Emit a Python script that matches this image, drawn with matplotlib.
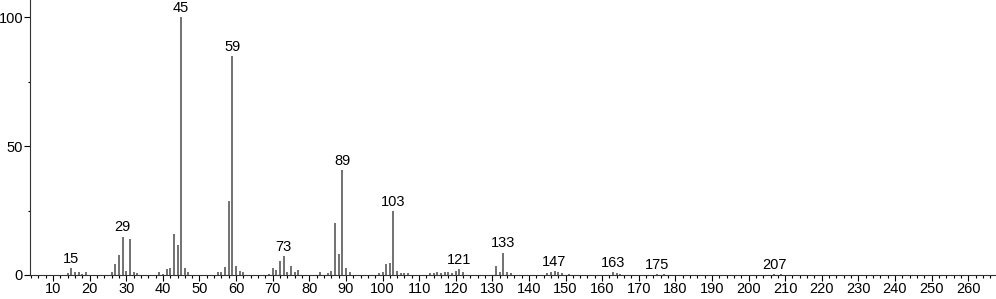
import matplotlib
matplotlib.use("Agg")
import matplotlib.pyplot as plt
from matplotlib.ticker import MultipleLocator

plt.rcParams['font.family'] = ['Liberation Sans', 'DejaVu Sans']

# m/z values and relative intensities
mz = [14, 15, 16, 17, 18, 19,
      26, 27, 28, 29, 30, 31, 32, 33,
      39, 40, 41, 42, 43, 44, 45, 46, 47,
      55, 56, 57, 58, 59, 60, 61, 62,
      69, 70, 71, 72, 73, 74, 75, 76, 77,
      83, 85, 86, 87, 88, 89, 90, 91,
      99, 100, 101, 102, 103, 104, 105, 106, 107,
      113, 114, 115, 116, 117, 118, 119, 120, 121, 122,
      131, 132, 133, 134, 135,
      145, 146, 147, 148, 149, 151,
      163, 164, 165, 175, 177, 207, 209]
intensity = [0.9, 2.6, 1.0, 1.0, 0.5, 1.0,
             1.0, 4.3, 7.8, 14.9, 1.7, 13.9, 1.0, 0.6,
             1.0, 0.5, 2.5, 2.7, 16.0, 11.5, 100.0, 2.7, 1.0,
             1.0, 1.3, 3.1, 28.8, 85.0, 3.4, 1.6, 1.2,
             0.5, 2.6, 1.9, 5.5, 7.2, 1.0, 3.5, 1.0, 1.9,
             1.0, 0.8, 1.5, 20.3, 8.3, 40.8, 2.6, 1.0,
             0.9, 1.2, 4.4, 4.8, 24.7, 1.4, 0.9, 0.6, 0.8,
             0.8, 0.8, 1.0, 0.9, 1.0, 1.2, 0.9, 1.5, 2.3, 1.0,
             3.5, 1.0, 8.7, 1.0, 0.8,
             0.8, 1.0, 1.7, 1.0, 0.6, 0.5,
             1.0, 0.9, 0.5, 0.5, 0.5, 0.3, 0.4]
labelled_mz = [15, 29, 45, 59, 73, 89, 103, 121, 133, 147, 163, 175, 207]

x_ticks = list(range(10, 261, 10))
y_ticks = [0, 50, 100]

fig = plt.figure(figsize=(9.96, 2.99), dpi=100)
ax = fig.add_axes([30 / 996, 24 / 299, 966 / 996, 275 / 299])

ax.vlines(mz, 0, intensity, color='#666666', linewidth=1.3)

for m in labelled_mz:
    h = intensity[mz.index(m)]
    ax.annotate(str(m), (m, h), xytext=(0, 1.5), textcoords='offset points',
                ha='center', va='bottom', fontsize=10.5)

ax.set_xlim(3.7, 267.6)
ax.set_ylim(0, 106.6)
ax.set_xticks(x_ticks)
ax.set_yticks(y_ticks)
ax.xaxis.set_minor_locator(MultipleLocator(2))
ax.yaxis.set_minor_locator(MultipleLocator(25))

ax.tick_params(axis='x', which='major', length=4, width=0.8, pad=1, labelsize=10.5)
ax.tick_params(axis='x', which='minor', length=2.2, width=0.8)
ax.tick_params(axis='y', which='major', length=4, width=0.8, pad=1, labelsize=10.5)
ax.tick_params(axis='y', which='minor', length=1.5, width=0.8)

for side in ['top', 'right']:
    ax.spines[side].set_visible(False)
for side in ['left', 'bottom']:
    ax.spines[side].set_linewidth(0.8)
    ax.spines[side].set_color('#333333')

fig.savefig('out.png', dpi=100)
